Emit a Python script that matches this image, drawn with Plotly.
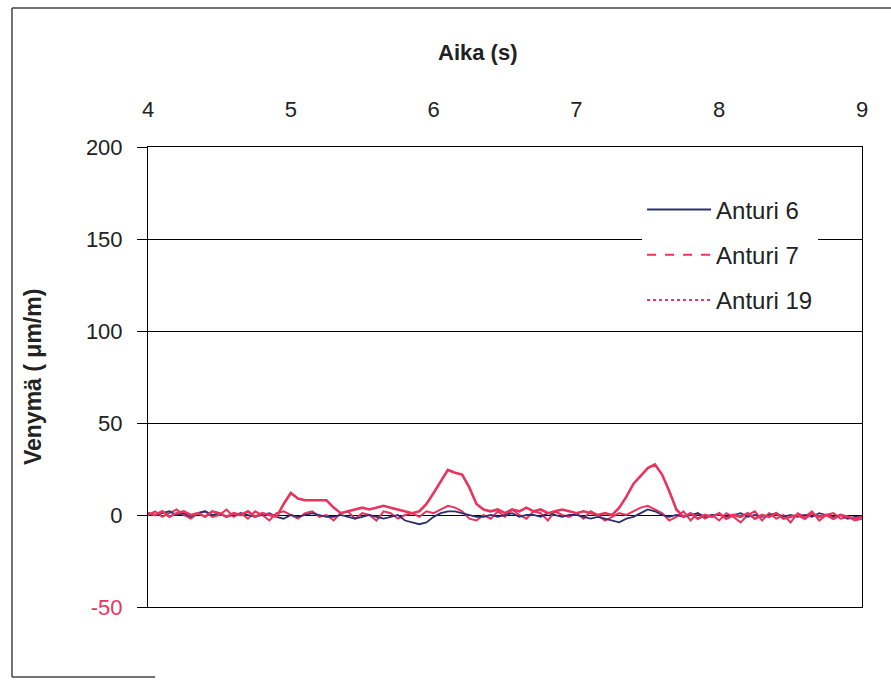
import plotly.graph_objects as go

# Time axis (s): samples every 0.05 s from 4.00 to 9.00
t_start = 4.0
t_step = 0.05

# Venymä (µm/m)
anturi_6 = [1, 0, 1, 2, 0, 1, -1, 1, 2, 0, 1, -1, 0, 1, 0, -1, 0, 1, -1, -2,
            0, -1, 0, 1, 0, -1, -1, 0, -1, -2, -1, 0, -1, -2, -1, 0, -3, -4, -5, -4,
            -1, 1, 2, 2, 1, 0, -1, -1, 0, -1, 0, 1, -1, 0, 0, -1, 1, 0, -1, 0,
            0, -1, -2, -1, -2, -3, -4, -2, -1, 1, 3, 2, 0, -1, 0, -1, 0, 1, -1, 0,
            0, -1, 0, 1, -1, 0, -1, 0, 1, -1, 0, -1, 0, -1, 1, 0, -1, 0, -2, -1, -1]

anturi_7 = [1, 0, 2, -1, 1, 2, 0, 1, -1, 2, 1, -1, 1, 0, 2, -1, 1, 0, -1, 6,
            12, 9, 8, 8, 8, 8, 4, 1, 2, 3, 4, 3, 4, 5, 4, 3, 2, 1, 2, 6,
            12, 18, 24.5, 23, 22, 15, 6, 3, 2, 3, 1, 3, 2, 4, 2, 3, 1, 2, 3, 2,
            1, 2, 1, 0, 1, 0, 4, 10, 17, 21, 25.5, 27.5, 22, 13, 3, -1, 1, -2, 0, -1,
            1, -2, 0, -1, 1, -2, 0, -1, 1, -2, -1, 0, -2, 1, -1, 0, -2, 0, -1, -2, -1]

anturi_19 = [0, 2, -1, 1, 3, 0, -2, 1, 2, -1, 0, 3, -1, 1, -2, 2, 0, -3, 1, 2,
             0, -2, 1, 2, -1, 0, -3, 1, 2, -2, 1, 0, -3, 2, 1, -2, 0, 1, -1, 2,
             1, 3, 5, 4, 2, -2, -3, 0, -2, 2, -1, 3, 0, -2, 2, 1, -3, 2, 0, -1,
             1, -2, 2, 0, -3, -1, 1, 0, 2, 4, 5, 3, 1, -3, -1, 2, -3, 1, -2, 0,
             -3, 1, -1, -4, 0, 2, -3, 1, -2, 0, -4, 1, -1, 2, -3, 0, 1, -2, -1, -3, -2]

series_names = ["Anturi 6", "Anturi 7", "Anturi 19"]
y_tick_vals = [-50, 0, 50, 100, 150, 200]
x_tick_vals = [4, 5, 6, 7, 8, 9]

times = [round(t_start + t_step * i, 2) for i in range(len(anturi_7))]

NAVY = "#2f2f6f"
RED = "#e8345e"
TXT = "#222222"

fig = go.Figure()

# data lines (drawn solid: dense data hides the dash pattern in the original)
fig.add_trace(go.Scatter(x=times, y=anturi_19, mode="lines", showlegend=False,
                         line=dict(color=RED, width=2), hoverinfo="skip"))
fig.add_trace(go.Scatter(x=times, y=anturi_6, mode="lines", showlegend=False,
                         line=dict(color=NAVY, width=1.8), hoverinfo="skip"))
fig.add_trace(go.Scatter(x=times, y=anturi_7, mode="lines", showlegend=False,
                         line=dict(color=RED, width=2.6), hoverinfo="skip"))

# legend entries
styles = [(NAVY, "solid"), (RED, "dash"), (RED, "dot")]
for name, (col, dash) in zip(series_names, styles):
    fig.add_trace(go.Scatter(x=[None], y=[None], mode="lines", name=name,
                             legendgroup=name,
                             line=dict(color=col, width=2, dash=dash)))

ticktext = []
for v in y_tick_vals:
    if v < 0:
        ticktext.append(f'<span style="color:{RED}">{v}</span>')
    else:
        ticktext.append(str(v))

fig.update_layout(
    width=891, height=680,
    margin=dict(l=148, r=29, t=147, b=73),
    paper_bgcolor="white", plot_bgcolor="white",
    font=dict(family="Liberation Sans, Arial, sans-serif", color=TXT, size=22),
    showlegend=True,
    legend=dict(x=0.692, y=0.912, xanchor="left", yanchor="top",
                bgcolor="white", borderwidth=0,
                font=dict(size=24, color=TXT),
                itemwidth=64, tracegroupgap=11, traceorder="grouped",
                entrywidth=130, entrywidthmode="pixels"),
    xaxis=dict(range=[4, 9], side="top", tickvals=x_tick_vals,
               ticks="", showgrid=False, zeroline=False,
               showline=True, linecolor="black", linewidth=1, mirror=True,
               ticklabelstandoff=20, tickfont=dict(size=22)),
    yaxis=dict(range=[-50, 200], tickvals=y_tick_vals, ticktext=ticktext,
               ticks="outside", ticklen=10, tickcolor="black",
               showgrid=True, gridcolor="black", gridwidth=1, zeroline=False,
               showline=True, linecolor="black", linewidth=1, mirror=True,
               ticklabelstandoff=10, tickfont=dict(size=22)),
    annotations=[
        dict(text="<b>Aika (s)</b>", xref="paper", yref="paper",
             x=0.462, y=1.205, xanchor="center", yanchor="middle",
             showarrow=False, font=dict(size=22, color=TXT)),
        dict(text="<b>Venymä ( μm/m)</b>", xref="paper", yref="paper",
             x=-0.161, y=0.5, xanchor="center", yanchor="middle", textangle=-90,
             showarrow=False, font=dict(size=23, color=TXT)),
    ],
    shapes=[
        dict(type="line", xref="paper", yref="paper", x0=-0.1905, x1=-0.1905,
             y0=-0.152, y1=1.302, line=dict(color="#444444", width=1.5)),
        dict(type="line", xref="paper", yref="paper", x0=-0.1905, x1=1.045,
             y0=1.302, y1=1.302, line=dict(color="#444444", width=1.5)),
        dict(type="line", xref="paper", yref="paper", x0=-0.1905, x1=0.01,
             y0=-0.152, y1=-0.152, line=dict(color="#444444", width=1.5)),
    ],
)

fig.write_html("out.html")
